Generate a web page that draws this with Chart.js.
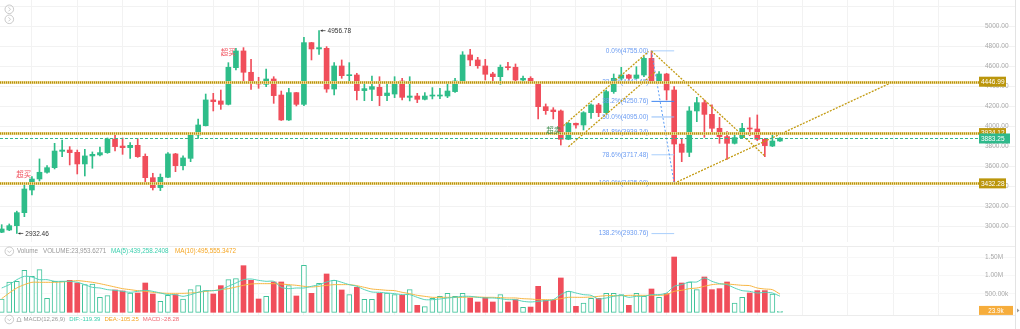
<!DOCTYPE html>
<html><head><meta charset="utf-8">
<script src="https://cdn.jsdelivr.net/npm/chart.js@4.4.1/dist/chart.umd.min.js"></script>
<style>
html,body{margin:0;padding:0;background:#fff;}
body{width:1020px;height:329px;position:relative;overflow:hidden;}
canvas{position:absolute;left:0;}
#pc{top:0;} #vc{top:242px;}
</style></head><body>
<canvas id="pc" width="1020" height="242"></canvas>
<canvas id="vc" width="1020" height="87"></canvas>
<script>
// ---------- data (candle index = position on the time axis) ----------
const opens = [2944,2967,3010,3140,3366,3476,3543,3589,3752,3765,
 3742,3626,3706,3716,3739,3875,3805,3789,3812,3702,
 3489,3390,3493,3726,3609,3682,3915,4008,4265,4255,
 4221,4587,4754,4541,4451,4421,4474,4314,4065,4338,
 4221,4837,4774,4780,4374,4604,4507,4514,4358,4371,
 4391,4308,4324,4454,4291,4304,4271,4304,4304,4304,
 4348,4454,4714,4664,4604,4524,4497,4594,4591,4464,
 4481,4448,4198,4165,4155,3872,4032,4015,4138,4215,
 4138,4348,4481,4514,4481,4514,4680,4448,4524,4364,
 3825,3742,4155,4238,4121,3982,3899,3832,3889,3985,
 3975,3872,3805,3855];
const highs = [3020,3027,3155,3423,3500,3676,3609,3832,3865,3799,
 3765,3772,3746,3795,3885,3938,3885,3839,3879,3726,
 3533,3526,3739,3732,3706,3932,4075,4324,4331,4364,
 4637,4780,4787,4670,4491,4574,4497,4354,4381,4340,
 4890,4840,4956.78,4797,4637,4664,4637,4531,4421,4504,
 4497,4421,4497,4481,4497,4331,4338,4388,4381,4438,
 4481,4747,4770,4690,4670,4541,4614,4640,4624,4504,
 4497,4450,4225,4188,4165,4040,4035,4148,4225,4231,
 4364,4524,4591,4521,4597,4697,4755,4547,4531,4398,
 3872,4198,4291,4265,4215,4091,3948,3938,4032,4088,
 4115,3882,3938,3890];
const lows = [2940,2960,2932.46,3100,3316,3456,3533,3576,3699,3616,
 3526,3506,3583,3706,3732,3755,3722,3682,3692,3439,
 3366,3360,3490,3549,3566,3649,3882,4005,4155,4171,
 4215,4564,4441,4371,4381,4398,4231,4060,4060,4205,
 4208,4664,4720,4341,4314,4481,4448,4265,4258,4258,
 4208,4258,4288,4265,4255,4238,4265,4275,4278,4288,
 4340,4448,4607,4581,4464,4431,4421,4564,4441,4455,
 4438,4075,4121,4075,3815,3868,3982,3965,4081,4098,
 4130,4331,4464,4464,4475,4497,4440,4431,4265,3432.28,
 3649,3699,4048,3892,3932,3832,3672,3825,3885,3908,
 3859,3699,3799,3850];
const closes = [2977,3010,3140,3376,3476,3543,3589,3755,3765,3739,
 3626,3706,3722,3739,3875,3799,3789,3812,3699,3489,
 3390,3493,3726,3609,3686,3915,4015,4265,4248,4221,
 4591,4754,4541,4441,4424,4474,4308,4065,4338,4221,
 4837,4774,4787,4374,4604,4507,4517,4358,4378,4398,
 4308,4334,4448,4291,4304,4271,4304,4314,4314,4354,
 4454,4714,4664,4607,4521,4497,4591,4587,4464,4481,
 4448,4198,4158,4148,3872,4032,4015,4138,4215,4138,
 4348,4481,4514,4481,4514,4680,4448,4524,4364,3825,
 3742,4155,4238,4121,3982,3899,3832,3889,3982,3975,
 3872,3809,3855,3883.25];
// volume in thousands
const volumes = [362,826,844,1143,980,1162,380,844,844,871,
 798,752,770,408,453,608,581,526,526,798,
 499,299,462,480,362,617,726,590,499,726,
 889,916,1270,871,362,435,826,826,726,444,
 1280,517,789,1044,871,608,480,680,353,353,
 517,526,480,462,617,190,153,380,435,517,
 435,517,390,281,408,281,480,281,344,134,
 143,708,326,326,935,570,162,253,380,380,
 517,517,480,190,517,435,635,408,508,1506,
 798,826,617,962,617,644,826,253,408,526,
 590,590,499,23.9536271];
const ma5 = [662,753,889,980,962,889,889,844,844,844,
 817,753,680,662,617,599,571,544,571,599,
 571,526,481,481,435,481,544,590,590,617,
 708,798,889,907,871,844,844,680,644,662,
 662,708,753,826,871,817,753,708,617,553,
 544,526,508,481,481,408,344,344,362,390,
 408,435,435,408,390,390,371,344,344,299,
 281,299,317,344,481,571,526,481,462,362,
 390,435,462,408,435,435,481,481,526,708,
 753,826,826,935,844,780,753,662,590,571,
 526,544,526,439.2582408];
const ma10 = [371,526,662,753,817,817,817,817,826,844,
 862,844,817,780,735,689,644,617,590,571,
 544,526,517,517,517,526,544,571,590,617,
 644,689,735,771,780,780,780,771,753,735,
 708,689,708,735,753,753,753,726,680,635,
 617,599,590,544,508,462,435,408,408,408,
 408,408,417,417,408,408,399,390,390,371,
 362,344,344,344,371,408,408,408,417,435,
 453,453,453,462,462,462,462,462,481,571,
 599,644,662,708,753,771,771,753,735,726,
 662,635,617,495.5553472];
const priceTicks = [3000,3200,3400,3600,3800,4000,4200,4400,4600,4800,5000,5200];
const volTicks = [500,1000,1500];
const levelLines = [4446.99, 3934.12, 3432.28];
const lastPrice = 3883.25;
const fibPct = ['0.0%','23.6%','38.2%','50.0%','61.8%','78.6%','100.0%','138.2%'];
const fibPrices = [4755.00,4443.48,4250.76,4095.00,3939.24,3717.48,3435.00,2930.76];
const fibRange = [86, 89];
const trendLines = [
  [[74.33,4007],[85.6,4748]],
  [[75.0,3797],[86.5,4545]],
  [[86.0,4753],[101.0,3706]],
  [[89.0,3433],[118.0,4447]]
];
const extremes = [[42,4956.78],[2,2932.46]];
const signals = [[2.93,3526,'超买'],[30.0,4743,'超买'],[73.07,3965,'超卖']];
const macdVals = {DIF:-119.39, DEA:-105.25, MACD:-28.28};

// ---------- styling ----------
const GREEN='#2ebd89', RED='#f04e5b', GOLD='#c39b12', TEAL='#2fb98b';
const FONT='"Liberation Sans", Arial, Helvetica, sans-serif';
const CJK='"Noto Sans CJK SC", sans-serif';
const up = closes.map((c,i)=>c>=opens[i]);
const gridIdx=[]; for(let v=4; v<=124; v+=6) gridIdx.push(v);
const XMIN=-0.225, XMAX=129.08;
function xScale(){return {type:'linear',min:XMIN,max:XMAX,offset:false,
  afterBuildTicks:s=>{s.ticks=gridIdx.map(v=>({value:v}));},
  ticks:{display:false},grid:{color:'#f2f2f2',drawTicks:false,offset:false},border:{display:false}};}
function yScale(min,max,ticks,cb,gridColor){return {type:'linear',position:'right',min:min,max:max,
  afterBuildTicks:s=>{s.ticks=ticks.map(v=>({value:v}));},
  afterFit:s=>{s.width=38;},
  ticks:{padding:-30,color:'#a9a9a9',font:{size:6.5,family:FONT},callback:cb,autoSkip:false},
  grid:{color:gridColor,tickLength:38},border:{display:false}};}

function circleIcon(ctx,cx,cy,down){
  ctx.save();ctx.strokeStyle='#bdbdbd';ctx.lineWidth=0.8;
  ctx.beginPath();ctx.arc(cx,cy,4.3,0,Math.PI*2);ctx.stroke();
  ctx.beginPath();
  if(down){ctx.moveTo(cx-2,cy-0.8);ctx.lineTo(cx,cy+1.2);ctx.lineTo(cx+2,cy-0.8);}
  else{ctx.moveTo(cx-0.8,cy-2);ctx.lineTo(cx+1.2,cy);ctx.lineTo(cx-0.8,cy+2);}
  ctx.stroke();ctx.restore();
}

const priceDraw={id:'priceDraw',afterDatasetsDraw(chart){
  const {ctx,chartArea:ca,scales:{x,y}}=chart;
  const px=v=>x.getPixelForValue(v), py=v=>y.getPixelForValue(v);
  const boxX=ca.right+2;
  ctx.save();
  // fibonacci
  const fibCols=['#a9cffc','#a9cffc','#3f86f0','#8fbdf8','#a9cffc','#a9cffc','#7aaaf5','#a9cffc'];
  ctx.font='6.5px '+FONT;ctx.textAlign='right';ctx.textBaseline='middle';
  fibPrices.forEach((p,k)=>{
    const yy=py(p);
    ctx.strokeStyle=fibCols[k];ctx.lineWidth=1;ctx.setLineDash([]);
    ctx.beginPath();ctx.moveTo(px(fibRange[0]),yy);ctx.lineTo(px(fibRange[1]),yy);ctx.stroke();
    ctx.fillStyle='#6b9cf2';
    ctx.fillText(fibPct[k]+'('+p.toFixed(2)+')',px(fibRange[0])-3,yy);
  });
  ctx.strokeStyle='#5b9cf6';ctx.setLineDash([2,2]);ctx.lineWidth=1;
  ctx.beginPath();ctx.moveTo(px(fibRange[0]),py(fibPrices[0]));ctx.lineTo(px(fibRange[1]),py(fibPrices[6]));ctx.stroke();
  // gold trend lines
  ctx.strokeStyle=GOLD;ctx.lineWidth=1.3;ctx.setLineDash([2,1.3]);
  trendLines.forEach(l=>{ctx.beginPath();ctx.moveTo(px(l[0][0]),py(l[0][1]));ctx.lineTo(px(l[1][0]),py(l[1][1]));ctx.stroke();});
  // horizontal levels
  levelLines.forEach(v=>{
    const yy=Math.round(py(v))+0.5;
    ctx.setLineDash([]);ctx.strokeStyle='#ecdb9a';ctx.lineWidth=3;
    ctx.beginPath();ctx.moveTo(ca.left,yy);ctx.lineTo(boxX,yy);ctx.stroke();
    ctx.setLineDash([1,1]);ctx.strokeStyle='#b8900a';ctx.lineWidth=2.2;
    ctx.beginPath();ctx.moveTo(ca.left,yy);ctx.lineTo(boxX,yy);ctx.stroke();
  });
  // last price
  const ly=Math.round(py(lastPrice))+0.5;
  ctx.setLineDash([3,2]);ctx.strokeStyle=TEAL;ctx.lineWidth=1;
  ctx.beginPath();ctx.moveTo(ca.left,ly);ctx.lineTo(boxX,ly);ctx.stroke();
  ctx.setLineDash([]);
  // boxes
  ctx.font='6.5px '+FONT;ctx.textAlign='left';ctx.textBaseline='middle';
  levelLines.forEach(v=>{const yy=py(v);ctx.fillStyle='#bb960c';ctx.fillRect(boxX,yy-5,27,10);ctx.fillStyle='#fff';ctx.fillText(v.toFixed(2),boxX+2,yy+0.5);});
  ctx.fillStyle=TEAL;ctx.fillRect(boxX,ly-5,31,10);ctx.fillStyle='#fff';ctx.fillText(lastPrice.toFixed(2),boxX+2,ly+0.5);
  // extremes
  ctx.fillStyle='#333';ctx.strokeStyle='#444';ctx.lineWidth=0.8;
  extremes.forEach(([i,v])=>{
    const tx=px(i)+1.5, yy=py(v);
    ctx.beginPath();ctx.moveTo(tx,yy);ctx.lineTo(tx+5,yy);ctx.stroke();
    ctx.beginPath();ctx.moveTo(tx,yy);ctx.lineTo(tx+2,yy-1.3);ctx.lineTo(tx+2,yy+1.3);ctx.closePath();ctx.fill();
    ctx.fillText(v.toFixed(2),tx+7,yy+0.5);
  });
  // signals
  ctx.font='7.5px '+CJK;ctx.textAlign='center';
  signals.forEach(([i,v,t])=>{ctx.fillStyle=t==='超买'?'#f0505c':'#3f8f4f';ctx.fillText(t,px(i),py(v));});
  // icons + right border
  circleIcon(ctx,9.3,9.3,false);circleIcon(ctx,9.3,19.3,false);
  ctx.strokeStyle='#e3e3e3';ctx.lineWidth=1;
  ctx.beginPath();ctx.moveTo(ca.right+38.5,0);ctx.lineTo(ca.right+38.5,chart.height);ctx.stroke();
  ctx.restore();
}};

const fmt4=v=>(v*1000).toLocaleString('en-US',{minimumFractionDigits:4,maximumFractionDigits:4});
const volDraw={id:'volDraw',afterDraw(chart){
  const {ctx,chartArea:ca,scales:{y}}=chart;
  ctx.save();
  ctx.strokeStyle='#ececec';ctx.lineWidth=1;
  [ca.top,ca.bottom].forEach(yy=>{ctx.beginPath();ctx.moveTo(0,Math.round(yy)+0.5);ctx.lineTo(ca.right+38,Math.round(yy)+0.5);ctx.stroke();});
  ctx.strokeStyle='#e3e3e3';
  ctx.beginPath();ctx.moveTo(ca.right+38.5,0);ctx.lineTo(ca.right+38.5,chart.height);ctx.stroke();
  // header volume
  ctx.font='6.3px '+FONT;ctx.textAlign='left';ctx.textBaseline='middle';
  const hy=9.3;
  circleIcon(ctx,9.3,hy,true);
  ctx.fillStyle='#9a9a9a';ctx.fillText('Volume',17,hy);
  ctx.fillText('VOLUME:'+fmt4(volumes[volumes.length-1]),43,hy);
  ctx.fillStyle='#3ccfae';ctx.fillText('MA(5):'+fmt4(ma5[ma5.length-1]),111,hy);
  ctx.fillStyle='#f5a623';ctx.fillText('MA(10):'+fmt4(ma10[ma10.length-1]),175,hy);
  // MACD header
  const my=77.5;
  circleIcon(ctx,9.3,my,true);
  ctx.strokeStyle='#b5b5b5';ctx.lineWidth=0.8;
  ctx.beginPath();ctx.moveTo(16.5,my+2);ctx.lineTo(21.5,my+2);ctx.moveTo(17.3,my+2);ctx.lineTo(17.5,my-1);
  ctx.quadraticCurveTo(19,my-3.5,20.5,my-1);ctx.lineTo(20.7,my+2);ctx.stroke();
  ctx.font='6px '+FONT;
  const parts=[['MACD(12,26,9)','#9a9a9a'],['DIF:'+macdVals.DIF.toFixed(2),'#3ccfae'],
    ['DEA:'+macdVals.DEA.toFixed(2),'#f5a623'],['MACD:'+macdVals.MACD.toFixed(2),'#f06a73']];
  let tx=23.5;
  parts.forEach(([t,c])=>{ctx.fillStyle=c;ctx.fillText(t,tx,my);tx+=ctx.measureText(t).width+4;});
  // current volume box
  ctx.font='6.3px '+FONT;
  const lv=volumes[volumes.length-1], vy=y.getPixelForValue(lv)-1;
  ctx.fillStyle='#f6ad3c';ctx.fillRect(ca.right+2,vy-4.5,34,9);
  ctx.fillStyle='#fff';ctx.textAlign='center';
  ctx.fillText((Math.floor(lv*10)/10).toFixed(1)+'k',ca.right+19,vy+0.5);
  ctx.fillStyle='#9a9a9a';
  ctx.beginPath();ctx.moveTo(ca.right+40,vy-2);ctx.lineTo(ca.right+42.5,vy);ctx.lineTo(ca.right+40,vy+2);ctx.fill();
  ctx.restore();
}};

const common={responsive:false,animation:false,events:[],
  plugins:{legend:{display:false},tooltip:{enabled:false}}};

new Chart(document.getElementById('pc'),{
  type:'bar',
  data:{datasets:[
    {label:'wick',data:highs.map((h,i)=>({x:i,y:[lows[i],h]})),backgroundColor:up.map(u=>u?GREEN:RED),barThickness:1,grouped:false,order:2},
    {label:'body',data:opens.map((o,i)=>({x:i,y:[o,closes[i]]})),backgroundColor:up.map(u=>u?GREEN:RED),barThickness:5,minBarLength:1,grouped:false,order:1}
  ]},
  options:Object.assign({},common,{
    layout:{padding:{left:0,right:5,top:0,bottom:0}},
    scales:{x:xScale(),y:yScale(2847,5262.5,priceTicks,v=>v>5000?'':v.toFixed(2),'#f2f2f2')}
  }),
  plugins:[priceDraw]
});

new Chart(document.getElementById('vc'),{
  type:'bar',
  data:{datasets:[
    {type:'line',label:'MA5',data:ma5.map((v,i)=>({x:i,y:v})),borderColor:'#55d2b9',borderWidth:1,pointRadius:0,tension:0.25,order:0},
    {type:'line',label:'MA10',data:ma10.map((v,i)=>({x:i,y:v})),borderColor:'#f7b541',borderWidth:1,pointRadius:0,tension:0.25,order:0},
    {label:'Volume',data:volumes.map((v,i)=>({x:i,y:v})),backgroundColor:up.map(u=>u?'#ffffff':RED),
     borderColor:up.map(u=>u?'#3fc39a':RED),borderWidth:up.map(u=>u?1:0),borderSkipped:false,barThickness:5,grouped:false,order:1}
  ]},
  options:Object.assign({},common,{
    layout:{padding:{left:0,right:5,top:4,bottom:14}},
    scales:{x:xScale(),y:yScale(-73.6,1806,volTicks,v=>v>=1000?(v/1000).toFixed(2)+'M':v.toFixed(2)+'k','#f7f7f7')}
  }),
  plugins:[volDraw]
});
</script>
</body></html>
